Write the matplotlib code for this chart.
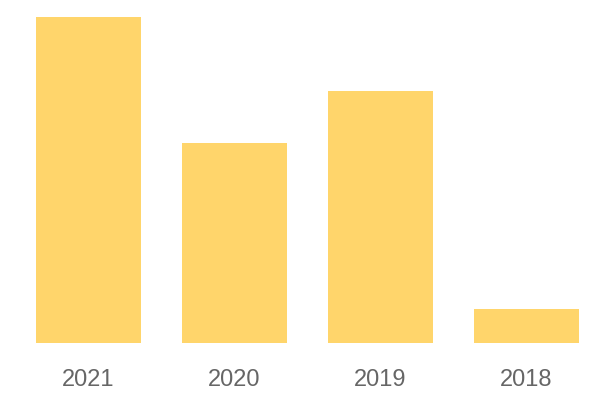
import matplotlib
matplotlib.use('Agg')
import matplotlib.pyplot as plt

years = ['2021', '2020', '2019', '2018']
values = [326, 200, 252, 34]

plt.rcParams['font.family'] = ['Liberation Sans', 'DejaVu Sans']

fig = plt.figure(figsize=(6, 4), dpi=100)
ax = fig.add_axes([0.06, 0.1425, 0.905, 0.815])

x = list(range(len(years)))
ax.bar(x, values, width=0.72, color='#FFD56B')

ax.set_xlim(-0.36, len(years) - 1 + 0.36)
ax.set_ylim(0, max(values))
ax.set_xticks(x)
ax.set_xticklabels(years, fontsize=17, color='#666666')
ax.tick_params(axis='x', length=0, pad=19)
ax.set_yticks([])
for s in ax.spines.values():
    s.set_visible(False)

fig.savefig('out.png', dpi=100)
